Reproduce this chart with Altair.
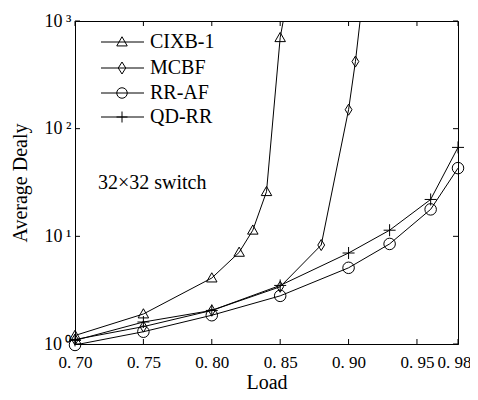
import altair as alt
import pandas as pd

# ---- data ----
series = ["CIXB-1", "MCBF", "RR-AF", "QD-RR"]
cixb_x = [0.70, 0.75, 0.80, 0.82, 0.83, 0.84, 0.85, 0.86]
cixb_y = [1.2, 1.9, 4.1, 7.1, 11.4, 26, 700, 3500]
mcbf_x = [0.70, 0.75, 0.80, 0.85, 0.88, 0.90, 0.905, 0.91]
mcbf_y = [1.1, 1.45, 2.05, 3.4, 8.3, 150, 420, 1500]
rraf_x = [0.70, 0.75, 0.80, 0.85, 0.90, 0.93, 0.96, 0.98]
rraf_y = [0.98, 1.3, 1.85, 2.8, 5.1, 8.5, 17.8, 43]
qdrr_x = [0.70, 0.75, 0.80, 0.85, 0.90, 0.93, 0.96, 0.98]
qdrr_y = [1.08, 1.6, 2.05, 3.5, 7.0, 11.4, 22, 67]
x_ticks = [0.70, 0.75, 0.80, 0.85, 0.90, 0.95, 0.98]
y_ticks = [1, 10, 100, 1000]
annotation = "32×32 switch"

FONT = "Liberation Serif, Times New Roman, serif"
W, H = 383, 323

TRI = "M0,-1L1,0.75L-1,0.75Z"
DIA = "M0,-1L0.62,0L0,1L-0.62,0Z"
CROSS = "M-1,0L1,0M0,-1L0,1"
shapes = [TRI, DIA, "circle", CROSS]
sizes = [110, 144, 110, 121]

rows = []
for name, xs, ys in [("CIXB-1", cixb_x, cixb_y), ("MCBF", mcbf_x, mcbf_y),
                     ("RR-AF", rraf_x, rraf_y), ("QD-RR", qdrr_x, qdrr_y)]:
    for a, b in zip(xs, ys):
        rows.append({"series": name, "load": a, "delay": b})
df = pd.DataFrame(rows)

xenc = alt.X("load:Q",
             scale=alt.Scale(domain=[0.70, 0.98], nice=False, zero=False),
             axis=alt.Axis(values=x_ticks, tickSize=0, grid=False, title="Load",
                           labelExpr="'0. ' + slice(format(datum.value, '.2f'), 2)",
                           labelOffset={"condition": {"test": "datum.value > 0.97", "value": -4}, "value": 0},
                           labelOverlap=False, labelBound=False, labelFlush=False,
                           labelFontSize=17, labelPadding=10, titlePadding=2))
yenc = alt.Y("delay:Q",
             scale=alt.Scale(type="log", domain=[1, 1000], nice=False),
             axis=alt.Axis(values=y_ticks, tickSize=0, grid=False, title="Average Dealy",
                           labelExpr="datum.value == 1 ? '10\u2009⁰' : datum.value == 10 ? '10\u2009¹' : datum.value == 100 ? '10\u2009²' : '10\u2009³'",
                           labelOverlap=False, labelBound=False, labelFlush=False,
                           labelFontSize=18, labelPadding=4, titlePadding=13))

lines = alt.Chart(df).mark_line(color="black", strokeWidth=1, clip=True).encode(
    x=xenc, y=yenc, detail="series:N")

points = alt.Chart(df).transform_filter("datum.delay <= 1000").mark_point(
    filled=False, color="black", strokeWidth=1, opacity=1).encode(
    x="load:Q", y="delay:Q",
    shape=alt.Shape("series:N", scale=alt.Scale(domain=series, range=shapes), legend=None),
    size=alt.Size("series:N", scale=alt.Scale(domain=series, range=sizes), legend=None))

# inward ticks on all four sides
xt = pd.DataFrame({"load": x_ticks})
yt = pd.DataFrame({"delay": y_ticks})
tick_b = alt.Chart(xt).mark_rule(color="black", strokeWidth=1).encode(
    x="load:Q", y=alt.value(H), y2=alt.value(H - 5))
tick_t = alt.Chart(xt).mark_rule(color="black", strokeWidth=1).encode(
    x="load:Q", y=alt.value(0), y2=alt.value(5))
tick_l = alt.Chart(yt).mark_rule(color="black", strokeWidth=1).encode(
    y="delay:Q", x=alt.value(0), x2=alt.value(5))
tick_r = alt.Chart(yt).mark_rule(color="black", strokeWidth=1).encode(
    y="delay:Q", x=alt.value(W), x2=alt.value(W - 5))

# manual legend
legend_layers = []
row_y = [21, 47, 72, 96]
for i, name in enumerate(series):
    one = pd.DataFrame({"s": [name]})
    yy = row_y[i]
    legend_layers.append(alt.Chart(one).mark_rule(color="black", strokeWidth=1).encode(
        x=alt.value(26), x2=alt.value(69), y=alt.value(yy)))
    legend_layers.append(alt.Chart(one).mark_point(
        filled=False, color="black", strokeWidth=1, opacity=1,
        shape=shapes[i], size=sizes[i]).encode(x=alt.value(47), y=alt.value(yy)))
    legend_layers.append(alt.Chart(one).mark_text(
        align="left", baseline="middle", font=FONT, fontSize=20, color="black").encode(
        x=alt.value(75), y=alt.value(yy), text="s:N"))

note = alt.Chart(pd.DataFrame({"t": [annotation]})).mark_text(
    align="left", baseline="middle", font=FONT, fontSize=20, color="black").encode(
    x=alt.value(23), y=alt.value(162), text="t:N")

chart = alt.layer(lines, points, tick_b, tick_t, tick_l, tick_r, note, *legend_layers).properties(
    width=W, height=H,
    autosize=alt.AutoSizeParams(type="none"),
    padding={"left": 67, "top": 13, "right": 12, "bottom": 48},
    background="white",
).configure_view(stroke="black", strokeWidth=1).configure_axis(
    domainColor="black", domainWidth=1, labelColor="black", titleColor="black",
    labelFont=FONT, titleFont=FONT, titleFontSize=20,
    titleFontWeight="normal")

chart.save("out.html", embed_options={"renderer": "svg", "actions": False})
